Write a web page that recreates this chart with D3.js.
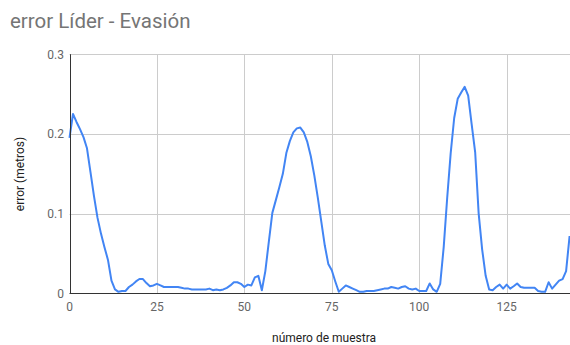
<!DOCTYPE html>
<html>
<head>
<meta charset="utf-8">
<script src="https://cdn.jsdelivr.net/npm/d3@7"></script>
<style>
  html, body { margin: 0; padding: 0; background: #fff; }
  svg { display: block; font-family: Roboto, Arial, sans-serif; }
</style>
</head>
<body>
<svg id="chart" width="570" height="345"></svg>
<script>
// Error per sample (metres)
const errorValues = [
  0.195, 0.225, 0.215, 0.206, 0.196, 0.182, 0.152, 0.122, 0.095, 0.075,
  0.058, 0.042, 0.016, 0.005, 0.002, 0.003, 0.003, 0.008, 0.011, 0.015,
  0.018, 0.018, 0.013, 0.009, 0.010, 0.012, 0.010, 0.008, 0.008, 0.008,
  0.008, 0.008, 0.007, 0.006, 0.006, 0.005, 0.005, 0.005, 0.005, 0.005,
  0.006, 0.004, 0.005, 0.004, 0.005, 0.007, 0.010, 0.014, 0.014, 0.012,
  0.008, 0.011, 0.010, 0.020, 0.022, 0.004, 0.028, 0.065, 0.101, 0.117,
  0.133, 0.150, 0.176, 0.191, 0.202, 0.207, 0.208, 0.202, 0.190, 0.172,
  0.148, 0.120, 0.090, 0.060, 0.037, 0.029, 0.015, 0.002, 0.006, 0.010,
  0.008, 0.006, 0.004, 0.002, 0.002, 0.003, 0.003, 0.003, 0.004, 0.005,
  0.006, 0.006, 0.008, 0.007, 0.006, 0.008, 0.009, 0.006, 0.005, 0.006,
  0.003, 0.003, 0.003, 0.0125, 0.005, 0.002, 0.012, 0.058, 0.120, 0.176,
  0.220, 0.244, 0.252, 0.259, 0.248, 0.212, 0.177, 0.100, 0.055, 0.022,
  0.005, 0.004, 0.008, 0.011, 0.006, 0.011, 0.006, 0.009, 0.0125, 0.008,
  0.007, 0.007, 0.007, 0.007, 0.003, 0.002, 0.002, 0.014, 0.006, 0.011,
  0.016, 0.018, 0.028, 0.072
];
const sampleIndex = errorValues.map((_, i) => i);

const xTickValues = [0, 25, 50, 75, 100, 125];
const yTickValues = [0, 0.1, 0.2, 0.3];
const yTickLabels = ["0", "0.1", "0.2", "0.3"];

const titleText = "error Líder - Evasión";
const xTitleText = "número de muestra";
const yTitleText = "error (metros)";

const svg = d3.select("#chart");
const plot = { left: 69.5, right: 569.6, top: 54.2, bottom: 293.4 };

const x = d3.scaleLinear().domain([0, 143]).range([plot.left, plot.right]);
const y = d3.scaleLinear().domain([0, 0.3]).range([plot.bottom, plot.top]);

// Title
svg.append("text")
  .attr("x", 10).attr("y", 28)
  .attr("font-size", 20.5).attr("fill", "#757575")
  .text(titleText);

// Vertical gridlines
svg.append("g").selectAll("line").data(xTickValues.filter(v => v > 0)).join("line")
  .attr("x1", d => Math.round(x(d)) + 0.5).attr("x2", d => Math.round(x(d)) + 0.5)
  .attr("y1", plot.top).attr("y2", plot.bottom)
  .attr("stroke", "#cccccc").attr("stroke-width", 1);

// Horizontal gridlines
svg.append("g").selectAll("line").data(yTickValues.filter(v => v > 0)).join("line")
  .attr("x1", plot.left).attr("x2", 570)
  .attr("y1", d => Math.round(y(d)) + 0.5).attr("y2", d => Math.round(y(d)) + 0.5)
  .attr("stroke", "#cccccc").attr("stroke-width", 1);

// X tick labels
svg.append("g").selectAll("text").data(xTickValues).join("text")
  .attr("x", d => x(d)).attr("y", 311)
  .attr("text-anchor", "middle").attr("font-size", 12).attr("fill", "#666666")
  .text(d => d);

// Y tick labels
svg.append("g").selectAll("text").data(yTickValues).join("text")
  .attr("x", 64).attr("y", d => y(d) + 4.5)
  .attr("text-anchor", "end").attr("font-size", 12).attr("fill", "#666666")
  .text((d, i) => yTickLabels[i]);

// Data line
const line = d3.line()
  .x((d, i) => x(sampleIndex[i]))
  .y(d => y(d));

svg.append("path")
  .datum(errorValues)
  .attr("d", line)
  .attr("fill", "none")
  .attr("stroke", "#4285f4")
  .attr("stroke-width", 2)
  .attr("stroke-linejoin", "round");

// Axis lines (baseline and left axis)
svg.append("line")
  .attr("x1", plot.left).attr("x2", 570)
  .attr("y1", Math.round(y(0)) + 0.5).attr("y2", Math.round(y(0)) + 0.5)
  .attr("stroke", "#333333").attr("stroke-width", 1);
svg.append("line")
  .attr("x1", Math.round(plot.left) + 0.5).attr("x2", Math.round(plot.left) + 0.5)
  .attr("y1", plot.top).attr("y2", plot.bottom)
  .attr("stroke", "#333333").attr("stroke-width", 1);

// Axis titles
svg.append("text")
  .attr("x", 324).attr("y", 342)
  .attr("text-anchor", "middle").attr("font-size", 12).attr("fill", "#222222")
  .text(xTitleText);

svg.append("text")
  .attr("transform", "translate(24,174) rotate(-90)")
  .attr("text-anchor", "middle").attr("font-size", 12).attr("fill", "#222222")
  .text(yTitleText);
</script>
</body>
</html>
